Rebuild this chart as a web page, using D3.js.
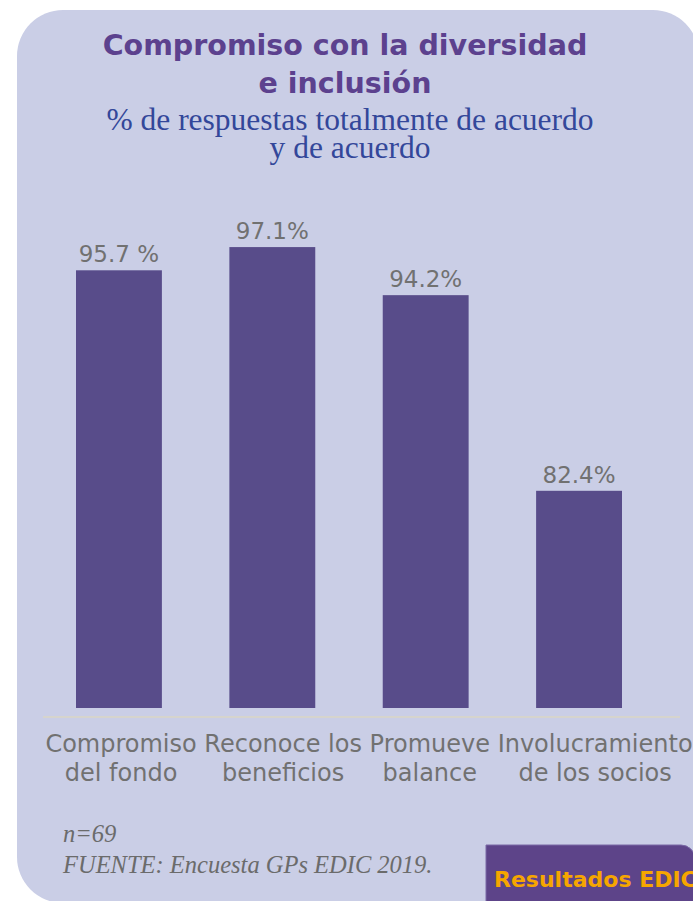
<!DOCTYPE html>
<html>
<head>
<meta charset="utf-8">
<script src="https://cdn.jsdelivr.net/npm/d3@7"></script>
<style>
  html, body { margin: 0; padding: 0; background: #ffffff; overflow: hidden; }
  svg { display: block; }
</style>
</head>
<body>
<script>
// Compromiso con la diversidad - bar chart

// Data
let labelsTop = ["Compromiso", "Reconoce los", "Promueve", "Involucramiento"];
let labelsBottom = ["del fondo", "beneficios", "balance", "de los socios"];
let values = [95.7, 97.1, 94.2, 82.4];
let valueLabels = ["95.7 %", "97.1%", "94.2%", "82.4%"];

let titleLines = ["Compromiso con la diversidad", "e inclusión"];
let subtitleLines = ["% de respuestas totalmente de acuerdo", "y de acuerdo"];
let notes = ["n=69", "FUENTE: Encuesta GPs EDIC 2019."];
let badgeText = "Resultados EDIC";

// SVG params
let svgWidth = 693;
let svgHeight = 901;
let baseY = 708;

let svg = d3.select("body")
    .append("svg")
    .attr("width", svgWidth)
    .attr("height", svgHeight);

// Lavender panel
svg.append("rect")
    .attr("x", 17)
    .attr("y", 10)
    .attr("width", 682)
    .attr("height", 893)
    .attr("rx", 46)
    .attr("fill", "#cacee6");

// Title
svg.append("g").selectAll("text")
    .data(titleLines)
    .enter()
    .append("text")
    .attr("x", 345)
    .attr("y", (d, i) => 55 + i * 38)
    .attr("text-anchor", "middle")
    .attr("font-family", "DejaVu Sans")
    .attr("font-weight", "bold")
    .attr("font-size", 28.5)
    .attr("fill", "#5c418e")
    .text(d => d);

// Subtitle
svg.append("g").selectAll("text")
    .data(subtitleLines)
    .enter()
    .append("text")
    .attr("x", 350)
    .attr("y", (d, i) => 130 + i * 28)
    .attr("text-anchor", "middle")
    .attr("font-family", "Liberation Serif")
    .attr("font-size", 31.5)
    .attr("fill", "#33479a")
    .text(d => d);

// Scales
let xScale = d3.scaleBand()
    .domain(labelsTop)
    .range([76, 622])
    .paddingInner(0.44)
    .paddingOuter(0);

let yScale = d3.scaleLinear()
    .domain([69.3, 100])
    .range([baseY, 199]);

let chartGroup = svg.append("g");

// Bars
chartGroup.selectAll("rect")
    .data(values)
    .enter()
    .append("rect")
    .attr("x", (d, i) => xScale(labelsTop[i]))
    .attr("y", d => yScale(d))
    .attr("width", xScale.bandwidth())
    .attr("height", d => baseY - yScale(d))
    .attr("fill", "#584c8a");

// Value labels
chartGroup.selectAll(".valueText")
    .data(values)
    .enter()
    .append("text")
    .attr("class", "valueText")
    .attr("x", (d, i) => xScale(labelsTop[i]) + xScale.bandwidth() / 2)
    .attr("y", d => yScale(d) - 8)
    .attr("text-anchor", "middle")
    .attr("font-family", "DejaVu Sans")
    .attr("font-size", 23)
    .attr("fill", "#717171")
    .text((d, i) => valueLabels[i]);

// Baseline
svg.append("line")
    .attr("x1", 43)
    .attr("x2", 680)
    .attr("y1", 717)
    .attr("y2", 717)
    .attr("stroke", "#d6d4cd")
    .attr("stroke-width", 2);

// Category labels: first line runs as one sentence, second line centred under each word group
let labelFont = { family: "DejaVu Sans", size: 24 };
let topTexts = svg.append("g").selectAll("text")
    .data(labelsTop)
    .enter()
    .append("text")
    .attr("y", 752)
    .attr("font-family", labelFont.family)
    .attr("font-size", labelFont.size)
    .attr("fill", "#717171")
    .text(d => d);

let widths = topTexts.nodes().map(n => n.getComputedTextLength());
let gap = labelFont.size * 0.318;
let total = d3.sum(widths) + gap * (widths.length - 1);
let centers = [];
let cursor = 369 - total / 2;
widths.forEach(w => {
    centers.push(cursor + w / 2);
    cursor += w + gap;
});
topTexts.attr("x", (d, i) => centers[i] - widths[i] / 2);

svg.append("g").selectAll("text")
    .data(labelsBottom)
    .enter()
    .append("text")
    .attr("x", (d, i) => centers[i])
    .attr("y", 781)
    .attr("text-anchor", "middle")
    .attr("font-family", labelFont.family)
    .attr("font-size", labelFont.size)
    .attr("fill", "#717171")
    .text(d => d);

// Footnotes
svg.append("g").selectAll("text")
    .data(notes)
    .enter()
    .append("text")
    .attr("x", 63)
    .attr("y", (d, i) => 842 + i * 31)
    .attr("font-family", "Liberation Serif")
    .attr("font-style", "italic")
    .attr("font-size", 24.5)
    .attr("fill", "#6b6b6b")
    .text(d => d);

// Badge
svg.append("path")
    .attr("d", "M486,845 H681 A14,14 0 0 1 695,859 V910 H486 Z")
    .attr("fill", "#5d4489")
    .attr("stroke", "#7a68a6")
    .attr("stroke-width", 1);

svg.append("text")
    .attr("x", 494)
    .attr("y", 887)
    .attr("font-family", "DejaVu Sans")
    .attr("font-weight", "bold")
    .attr("font-size", 22)
    .attr("fill", "#f6a600")
    .text(badgeText);
</script>
</body>
</html>
